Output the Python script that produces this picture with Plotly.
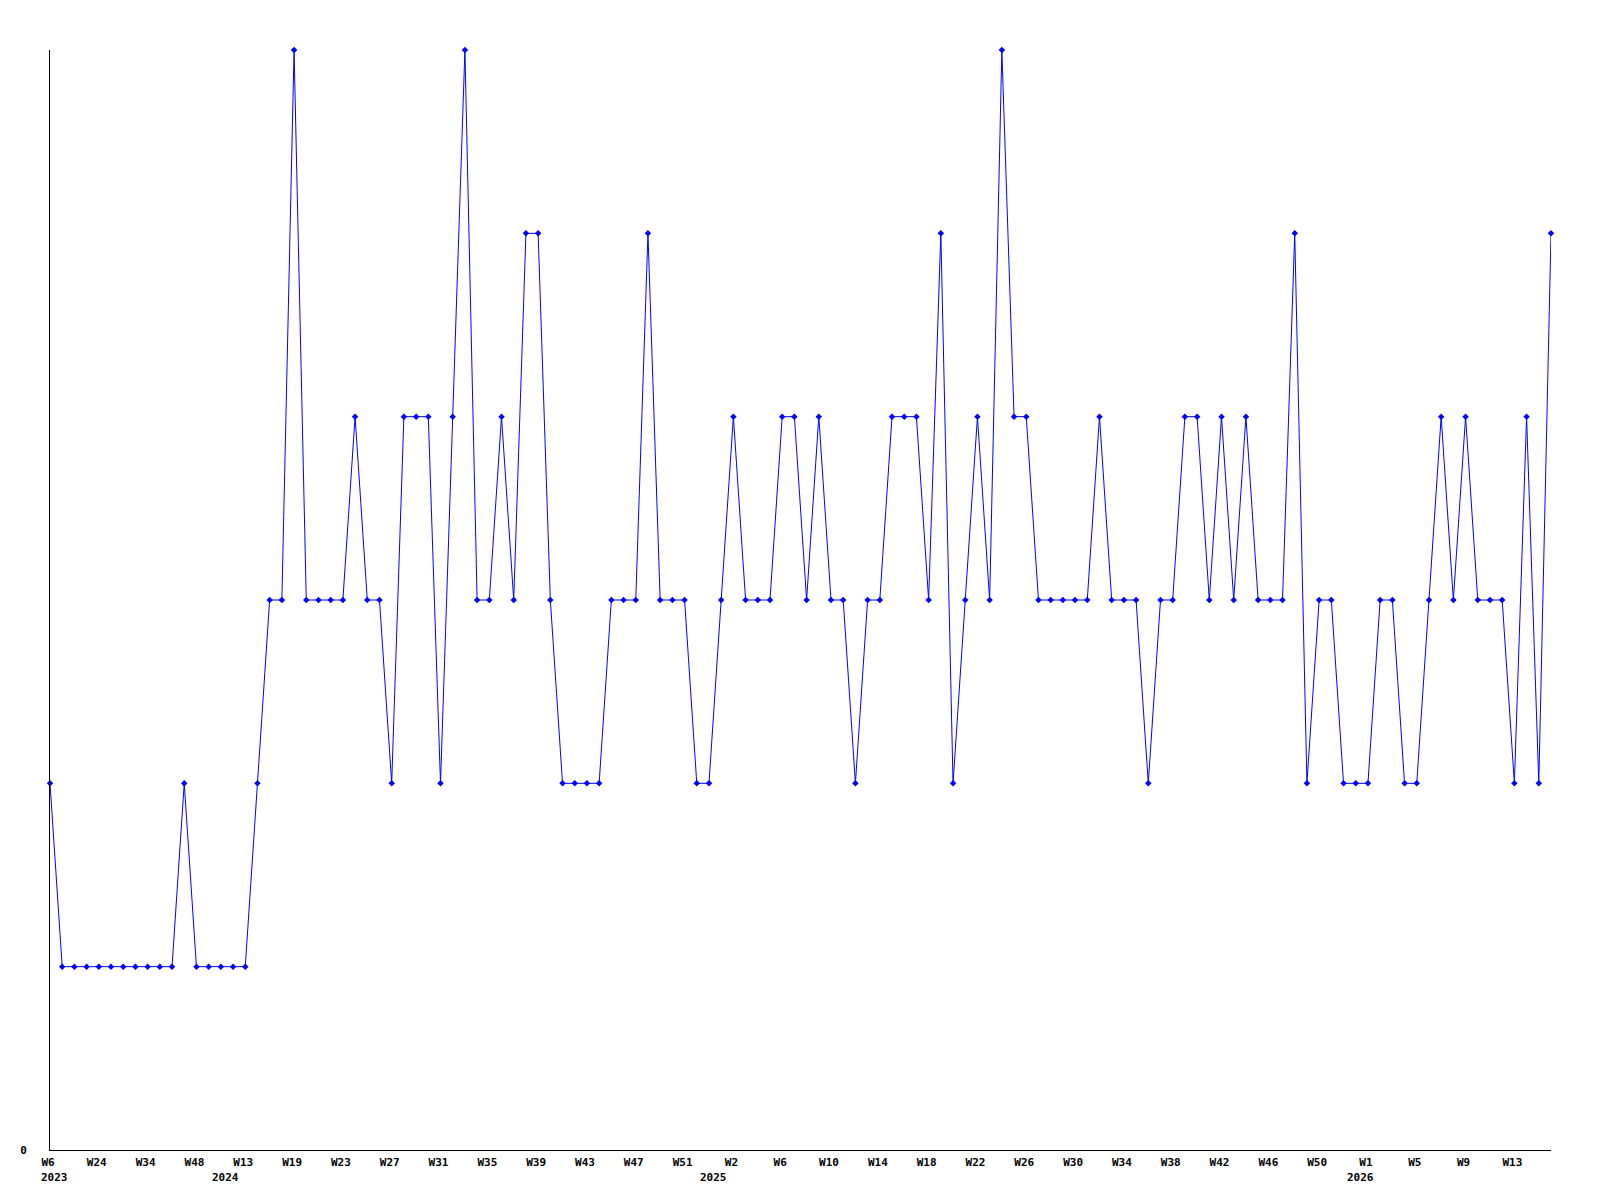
import plotly.graph_objects as go

# Series values (one point per week, evenly spaced)
values = [
    2, 1, 1, 1, 1, 1, 1, 1, 1, 1,
    1, 2, 1, 1, 1, 1, 1, 2, 3, 3,
    6, 3, 3, 3, 3, 4, 3, 3, 2, 4,
    4, 4, 2, 4, 6, 3, 3, 4, 3, 5,
    5, 3, 2, 2, 2, 2, 3, 3, 3, 5,
    3, 3, 3, 2, 2, 3, 4, 3, 3, 3,
    4, 4, 3, 4, 3, 3, 2, 3, 3, 4,
    4, 4, 3, 5, 2, 3, 4, 3, 6, 4,
    4, 3, 3, 3, 3, 3, 4, 3, 3, 3,
    2, 3, 3, 4, 4, 3, 4, 3, 4, 3,
    3, 3, 5, 2, 3, 3, 2, 2, 2, 3,
    3, 2, 2, 3, 4, 3, 4, 3, 3, 3,
    2, 4, 2, 5,
]

# Week tick labels (every 4th point)
tick_labels = [
    "W6", "W24", "W34", "W48", "W13", "W19", "W23", "W27", "W31", "W35",
    "W39", "W43", "W47", "W51", "W2", "W6", "W10", "W14", "W18", "W22",
    "W26", "W30", "W34", "W38", "W42", "W46", "W50", "W1", "W5", "W9", "W13",
]
tick_step = 4

# Year labels and the first point index of each year
year_labels = ["2023", "2024", "2025", "2026"]
year_start = [0, 14, 54, 107]

x = list(range(len(values)))
tick_vals = x[::tick_step][: len(tick_labels)]

BLUE = "#0000ff"
FONT = dict(family="DejaVu Sans Mono", size=11, color="black", weight="bold")

fig = go.Figure()
fig.add_trace(
    go.Scatter(
        x=x,
        y=values,
        mode="lines+markers",
        line=dict(color=BLUE, width=1),
        marker=dict(symbol="diamond", size=5, color=BLUE),
        cliponaxis=False,
        showlegend=False,
    )
)

annotations = []
for lbl, idx in zip(year_labels, year_start):
    annotations.append(
        dict(
            x=idx, xref="x", y=0, yref="paper",
            text=lbl, showarrow=False,
            xanchor="left", yanchor="top",
            xshift=-11, yshift=-19,
            font=FONT,
        )
    )

fig.update_layout(
    width=1600,
    height=1200,
    margin=dict(l=42, r=57, t=42, b=58),
    paper_bgcolor="white",
    plot_bgcolor="white",
    annotations=annotations,
    xaxis=dict(
        range=[0, len(values) - 1],
        showgrid=False,
        zeroline=False,
        showline=True,
        linecolor="black",
        linewidth=1,
        tickvals=tick_vals,
        ticktext=tick_labels,
        ticks="",
        tickfont=FONT,
        ticklabelshift=-2,
        ticklabelstandoff=2,
    ),
    yaxis=dict(
        range=[0, 6],
        showgrid=False,
        zeroline=False,
        showline=True,
        linecolor="black",
        linewidth=1,
        tickvals=[0],
        ticktext=["0"],
        ticks="",
        tickfont=FONT,
        ticklabelstandoff=20,
    ),
)

fig.write_html("out.html")
